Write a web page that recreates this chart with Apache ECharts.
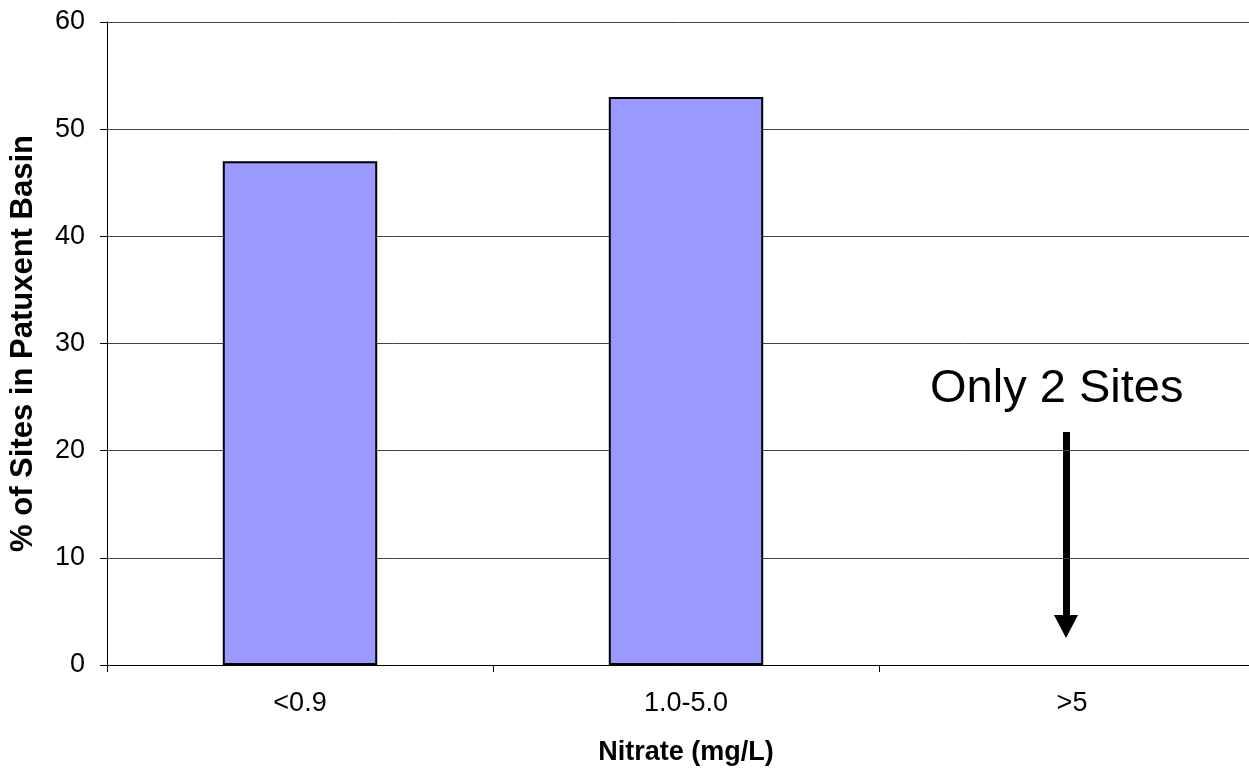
<!DOCTYPE html>
<html>
<head>
<meta charset="utf-8">
<script src="https://cdn.jsdelivr.net/npm/echarts@6/dist/echarts.min.js"></script>
<style>html,body{margin:0;padding:0;background:#fff;}#c{width:1249px;height:772px;}</style>
</head>
<body>
<div id="c"></div>
<script>
const categories = ['<0.9', '1.0-5.0', '>5'];
const values = [47, 53, 0];
const yTicks = [0, 10, 20, 30, 40, 50, 60];
const xTitle = 'Nitrate (mg/L)';
const yTitle = '% of Sites in Patuxent Basin';
const note = 'Only 2 Sites';

const chart = echarts.init(document.getElementById('c'), null, {renderer: 'canvas'});
const font = 'Arial, "Liberation Sans", sans-serif';
chart.setOption({
  animation: false,
  grid: {left: 107, top: 22, width: 1158, bottom: 107, containLabel: false, outerBoundsMode: 'none'},
  xAxis: {
    type: 'category', data: categories,
    axisLine: {lineStyle: {color: '#000', width: 1}},
    axisTick: {show: true, alignWithLabel: false, length: 7, lineStyle: {color: '#000'}},
    axisLabel: {color: '#000', fontSize: 27, fontFamily: font, margin: 25},
    name: xTitle, nameLocation: 'middle', nameGap: 74,
    nameTextStyle: {color: '#000', fontSize: 27, fontWeight: 'bold', fontFamily: font}
  },
  yAxis: {
    type: 'value', min: yTicks[0], max: yTicks[yTicks.length - 1], interval: yTicks[1] - yTicks[0],
    axisLine: {show: true, lineStyle: {color: '#000', width: 1}},
    axisTick: {show: true, length: 7, lineStyle: {color: '#000'}},
    axisLabel: {color: '#000', fontSize: 27, fontFamily: font, margin: 22},
    splitLine: {show: true, lineStyle: {color: '#444', width: 1}},
    name: yTitle, nameLocation: 'middle', nameGap: 68, nameRotate: 90,
    nameTextStyle: {color: '#000', fontSize: 31, fontWeight: 'bold', fontFamily: font}
  },
  series: [{
    type: 'bar',
    data: values.map(v => v === 0 ? {value: v, itemStyle: {borderWidth: 0}} : v),
    barWidth: '40%',
    itemStyle: {color: '#9999FF', borderColor: '#000', borderWidth: 2}
  }],
  graphic: [
    {type: 'text', left: 930, top: 366, style: {text: note, fontSize: 47, fontFamily: font, fill: '#000'}},
    {type: 'rect', shape: {x: 1063, y: 432, width: 7, height: 185}, style: {fill: '#000'}},
    {type: 'polygon', shape: {points: [[1054, 615], [1078, 615], [1066, 638]]}, style: {fill: '#000'}}
  ]
});
</script>
</body>
</html>
